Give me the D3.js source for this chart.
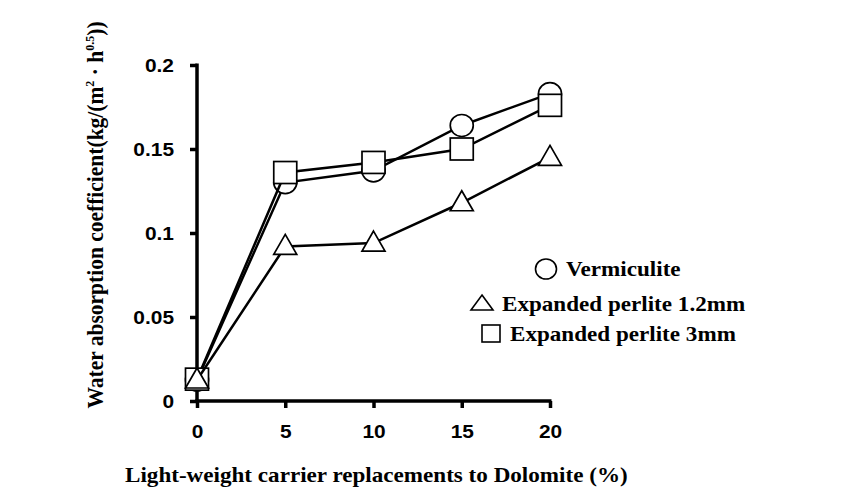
<!DOCTYPE html>
<html>
<head>
<meta charset="utf-8">
<script src="https://cdn.jsdelivr.net/npm/d3@7/dist/d3.min.js"></script>
<style>
  html, body { margin: 0; padding: 0; background: #fff; }
  svg { display: block; }
</style>
</head>
<body>
<svg id="chart" width="857" height="497"></svg>
<script>
// ---- data ----
const replacements = [0, 5, 10, 15, 20];
const vermiculite = [0.0125, 0.130, 0.137, 0.164, 0.183];
const perlite12 = [0.0125, 0.092, 0.094, 0.118, 0.145];
const perlite3 = [0.013, 0.136, 0.142, 0.150, 0.176];
const xTicks = [0, 5, 10, 15, 20];
const yTicks = [0, 0.05, 0.1, 0.15, 0.2];
const yTickLabels = ["0", "0.05", "0.1", "0.15", "0.2"];
const seriesNames = ["Vermiculite", "Expanded perlite 1.2mm", "Expanded perlite 3mm"];

const svg = d3.select("#chart");
const x = d3.scaleLinear().domain([0, 20]).range([197, 550]);
const y = d3.scaleLinear().domain([0, 0.2]).range([401, 65]);

const serif = "'Liberation Serif', 'Times New Roman', serif";
const sans = "'Liberation Sans', Arial, sans-serif";
const STRETCH = 1.1; // reference text is slightly wide

function stretch(sel) {
  sel.each(function () {
    const len = this.getComputedTextLength();
    d3.select(this).attr("textLength", len * STRETCH).attr("lengthAdjust", "spacingAndGlyphs");
  });
}

// axes
const yAxis = d3.axisLeft(y).tickValues(yTicks).tickSize(7).tickPadding(16)
  .tickFormat((d, i) => yTickLabels[i]);
const xAxis = d3.axisBottom(x).tickValues(xTicks).tickSize(7).tickPadding(17)
  .tickFormat(d3.format("d"));

const gy = svg.append("g").attr("transform", `translate(${x(0)},0)`).call(yAxis);
const gx = svg.append("g").attr("transform", `translate(0,${y(0)})`).call(xAxis);
[gx, gy].forEach(g => {
  g.select(".domain").attr("stroke", "#000").attr("stroke-width", 3.5);
  g.selectAll(".tick line").attr("stroke", "#000").attr("stroke-width", 3.5);
  g.selectAll(".tick text").attr("fill", "#000")
    .style("font-family", sans).style("font-weight", "bold").style("font-size", "19px");
});
gy.select(".domain").attr("d", `M0,${y(0.2) - 1.5}V${y(0) + 1.75}`);
gx.select(".domain").attr("d", `M${x(0) - 1.75},0H${x(20) + 1.5}`);
stretch(gy.selectAll(".tick text"));
stretch(gx.selectAll(".tick text"));

function drawMarker(g, type, cx, cy) {
  if (type === "circle") {
    g.append("ellipse").attr("cx", cx).attr("cy", cy).attr("rx", 11.5).attr("ry", 11)
      .attr("fill", "#fff").attr("stroke", "#000").attr("stroke-width", 1.7);
  } else if (type === "square") {
    const w = 23, h = 22;
    g.append("rect").attr("x", cx - w / 2).attr("y", cy - h / 2).attr("width", w).attr("height", h)
      .attr("fill", "#fff").attr("stroke", "#000").attr("stroke-width", 1.7);
  } else {
    const w = 23, h = 20;
    g.append("path")
      .attr("d", `M${cx},${cy - h * 0.6}L${cx + w / 2},${cy + h * 0.4}L${cx - w / 2},${cy + h * 0.4}Z`)
      .attr("fill", "#fff").attr("stroke", "#000").attr("stroke-width", 1.7);
  }
}

const series = [
  { name: seriesNames[0], values: vermiculite, type: "circle" },
  { name: seriesNames[2], values: perlite3, type: "square" },
  { name: seriesNames[1], values: perlite12, type: "triangle" }
];
const line = d3.line().x((d, i) => x(replacements[i])).y(d => y(d));
series.forEach(s => {
  const g = svg.append("g");
  g.append("path").attr("d", line(s.values)).attr("fill", "none")
    .attr("stroke", "#000").attr("stroke-width", 2.5);
  s.values.forEach((v, i) => drawMarker(g, s.type, x(replacements[i]), y(v)));
});

// legend
const leg = svg.append("g");
const legItems = [
  { type: "circle", name: seriesNames[0], mx: 546, my: 269, tx: 566, ty: 276 },
  { type: "triangle", name: seriesNames[1], mx: 482, my: 304, tx: 502, ty: 311 },
  { type: "square", name: seriesNames[2], mx: 491, my: 333, tx: 510, ty: 341 }
];
legItems.forEach(it => {
  if (it.type === "circle") {
    leg.append("ellipse").attr("cx", it.mx).attr("cy", it.my).attr("rx", 10.5).attr("ry", 10)
      .attr("fill", "none").attr("stroke", "#000").attr("stroke-width", 1.6);
  } else if (it.type === "triangle") {
    leg.append("path").attr("d", `M${it.mx},${it.my - 9}L${it.mx + 11},${it.my + 6}L${it.mx - 11},${it.my + 6}Z`)
      .attr("fill", "none").attr("stroke", "#000").attr("stroke-width", 1.6);
  } else {
    leg.append("rect").attr("x", it.mx - 9).attr("y", it.my - 8).attr("width", 18).attr("height", 17)
      .attr("fill", "none").attr("stroke", "#000").attr("stroke-width", 1.6);
  }
  const t = leg.append("text").attr("x", it.tx).attr("y", it.ty).text(it.name)
    .style("font-family", serif).style("font-weight", "bold").style("font-size", "21px").attr("fill", "#000");
  stretch(t);
});

// axis titles
const xt = svg.append("text").attr("x", 125).attr("y", 482)
  .text("Light-weight carrier replacements to Dolomite (%)")
  .style("font-family", serif).style("font-weight", "bold").style("font-size", "21px").attr("fill", "#000");
stretch(xt);

const yt = svg.append("text").attr("transform", `translate(103,215) scale(${STRETCH},1) rotate(-90)`)
  .attr("text-anchor", "middle")
  .style("font-family", serif).style("font-weight", "bold").style("font-size", "21.5px").attr("fill", "#000");
yt.append("tspan").text("Water absorption coefficient(kg/(m");
yt.append("tspan").text("2").style("font-size", "12px").attr("dy", -8);
yt.append("tspan").text(" · h").attr("dy", 8);
yt.append("tspan").text("0.5").style("font-size", "12px").attr("dy", -8);
yt.append("tspan").text("))").attr("dy", 8);
</script>
</body>
</html>
